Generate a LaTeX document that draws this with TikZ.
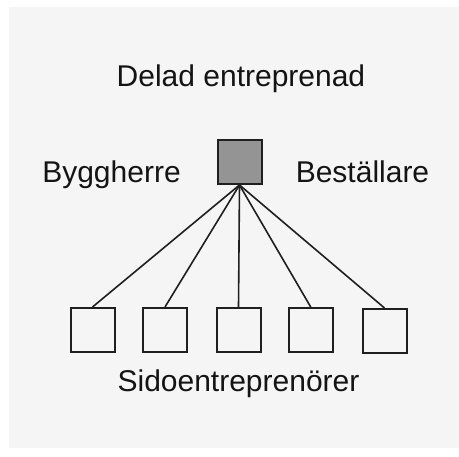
\documentclass[tikz,border=0pt]{standalone}
\usepackage{fontspec}
\setmainfont{Liberation Sans}
\begin{document}
\begin{tikzpicture}[x=1pt,y=-1pt,
  lbl/.style={inner sep=0pt,anchor=base,font=\fontsize{30}{36}\selectfont,text=black!92},
  sidobox/.style={draw=black!88,line width=2pt,minimum size=44pt,inner sep=0pt},
  headbox/.style={draw=black!88,line width=2pt,minimum size=44pt,inner sep=0pt,fill=black!42},
  link/.style={draw=black!88,line width=1.6pt}]
\useasboundingbox (0,0) rectangle (459,457);
\fill[white] (0,0) rectangle (459,457);
\fill[black!4] (9,7) rectangle (459,448);
\node[lbl] (title) at (241,87) {Delad entreprenad};
\node[lbl] (bh) at (111.5,183) {Byggherre};
\node[lbl] (best) at (362.5,183) {Beställare};
\node[lbl] (sido) at (238.5,391.5) {Sidoentreprenörer};
\node[headbox] (top) at (239.5,162) {};
\node[sidobox] (b1) at (92.5,330) {};
\node[sidobox] (b2) at (165,330) {};
\node[sidobox] (b3) at (238.5,330.5) {};
\node[sidobox] (b4) at (311,330.5) {};
\node[sidobox] (b5) at (384.5,331) {};
\foreach \b in {b1,b2,b3,b4,b5}
  \draw[link] (top.south) -- (\b.north);
\end{tikzpicture}
\end{document}
